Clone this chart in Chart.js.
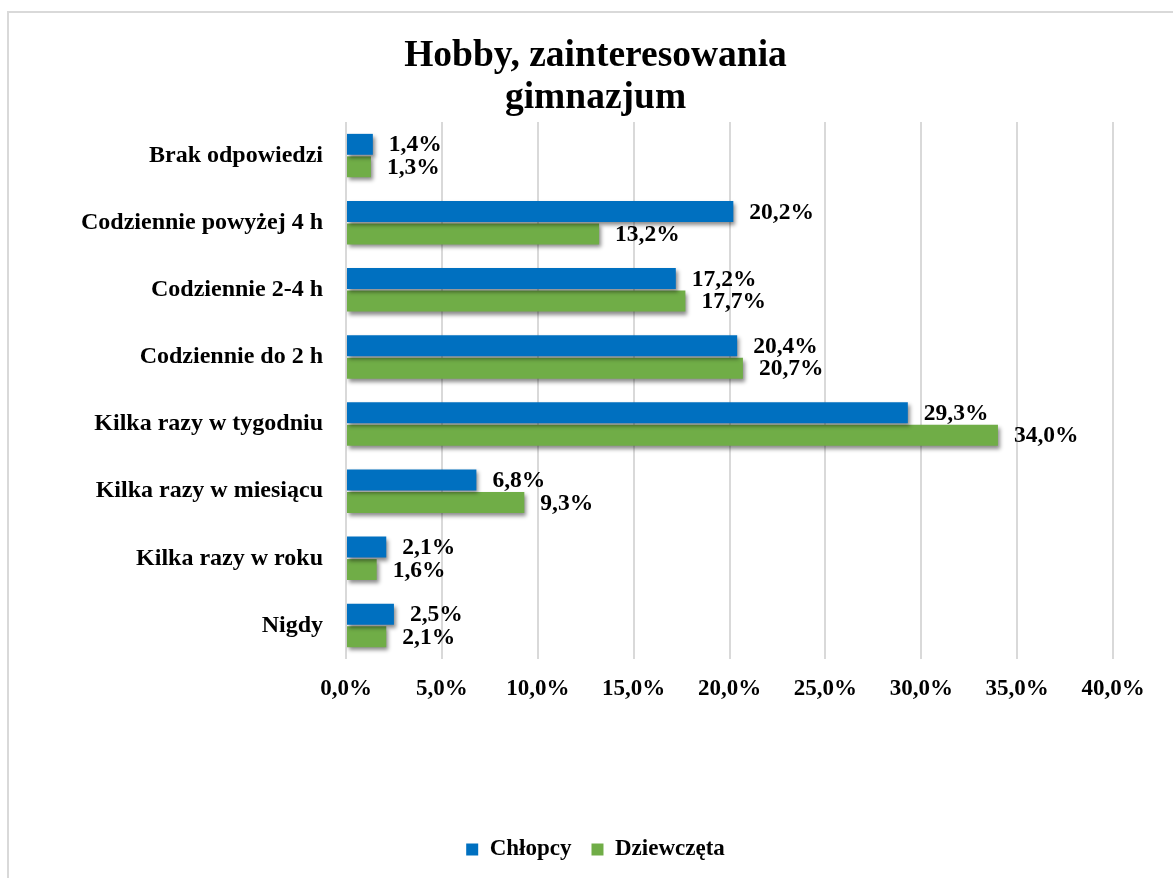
<!DOCTYPE html>
<html>
<head>
<meta charset="utf-8">
<script src="https://cdn.jsdelivr.net/npm/chart.js@4/dist/chart.umd.min.js"></script>
<style>
  html, body { margin: 0; padding: 0; background: #fff; }
  #wrap { width: 1173px; height: 878px; position: relative; }
</style>
</head>
<body>
<div id="wrap"><canvas id="c" width="1173" height="878"></canvas></div>
<script>
const categories = [
  'Brak odpowiedzi',
  'Codziennie powyżej 4 h',
  'Codziennie 2-4 h',
  'Codziennie do 2 h',
  'Kilka razy w tygodniu',
  'Kilka razy w miesiącu',
  'Kilka razy w roku',
  'Nigdy'
];
const chlopcy    = [1.4, 20.2, 17.2, 20.4, 29.3, 6.8, 2.1, 2.5];
const dziewczeta = [1.3, 13.2, 17.7, 20.7, 34.0, 9.3, 1.6, 2.1];
const seriesNames = ['Chłopcy', 'Dziewczęta'];
const titleLines = ['Hobby, zainteresowania', 'gimnazjum'];

const FONT = "'Liberation Serif', 'Times New Roman', serif";
const fmt = v => v.toFixed(1).replace('.', ',') + '%';

const framePlugin = {
  id: 'frame',
  beforeDraw(chart) {
    const ctx = chart.ctx;
    ctx.save();
    ctx.fillStyle = '#fff';
    ctx.fillRect(0, 0, chart.width, chart.height);
    ctx.fillStyle = '#d9d9d9';
    ctx.fillRect(7, 11, 2, chart.height);
    ctx.fillRect(7, 11, chart.width, 2);
    ctx.restore();
  }
};

const shadowPlugin = {
  id: 'barShadow',
  beforeDatasetsDraw(chart) {
    const ctx = chart.ctx;
    ctx.save();
    ctx.shadowColor = 'rgba(0,0,0,0.45)';
    ctx.shadowBlur = 4;
    ctx.shadowOffsetX = 2;
    ctx.shadowOffsetY = 3;
  },
  afterDatasetsDraw(chart) {
    chart.ctx.restore();
  }
};

const labelPlugin = {
  id: 'valueLabels',
  afterDraw(chart) {
    const ctx = chart.ctx;
    ctx.save();
    ctx.font = 'bold 23.5px ' + FONT;
    ctx.fillStyle = '#000';
    ctx.textAlign = 'left';
    ctx.textBaseline = 'middle';
    chart.data.datasets.forEach((ds, i) => {
      const meta = chart.getDatasetMeta(i);
      meta.data.forEach((bar, j) => {
        ctx.fillText(fmt(ds.data[j]), bar.x + 16, bar.y + 1);
      });
    });
    ctx.restore();
  }
};

new Chart(document.getElementById('c'), {
  type: 'bar',
  data: {
    labels: categories,
    datasets: [
      { label: seriesNames[0], data: chlopcy, backgroundColor: '#0070C0', borderWidth: 0,
        categoryPercentage: 0.67, barPercentage: 0.93 },
      { label: seriesNames[1], data: dziewczeta, backgroundColor: '#70AD47', borderWidth: 0,
        categoryPercentage: 0.67, barPercentage: 0.93 }
    ]
  },
  options: {
    indexAxis: 'y',
    responsive: false,
    animation: false,
    layout: { padding: { left: 78, right: 60, top: 12, bottom: 7 } },
    plugins: {
      title: {
        display: true,
        text: titleLines,
        color: '#000',
        font: { family: FONT, size: 37.5, weight: 'bold', lineHeight: 1.12 },
        padding: { top: 23, bottom: 3 }
      },
      legend: {
        position: 'bottom',
        labels: {
          color: '#000',
          font: { family: FONT, size: 23, weight: 'bold' },
          boxWidth: 12,
          boxHeight: 12,
          padding: 20
        }
      },
      tooltip: { enabled: false }
    },
    scales: {
      x: {
        min: 0,
        max: 40,
        ticks: {
          stepSize: 5,
          color: '#000',
          font: { family: FONT, size: 23, weight: 'bold' },
          padding: 16,
          callback: v => fmt(v)
        },
        grid: { color: '#d9d9d9', lineWidth: 2, drawTicks: false },
        border: { display: false },
        afterFit(s) { s.height = 159; }
      },
      y: {
        ticks: {
          color: '#000',
          font: { family: FONT, size: 24, weight: 'bold' },
          padding: 23
        },
        grid: { display: false, drawTicks: false },
        border: { display: false },
        afterFit(s) { s.width = 346 - 78; }
      }
    }
  },
  plugins: [framePlugin, shadowPlugin, labelPlugin]
});
</script>
</body>
</html>
